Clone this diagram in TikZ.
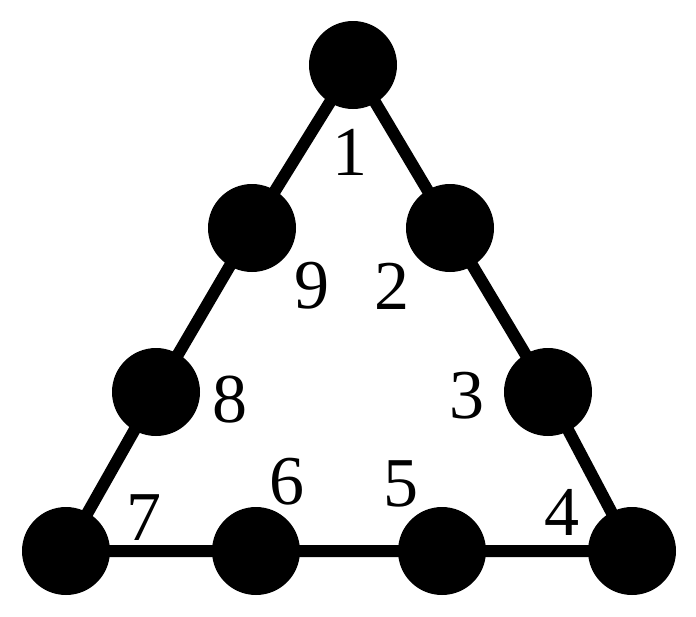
\documentclass[tikz,border=0pt]{standalone}
\usepackage{fontspec}
\setmainfont{Liberation Serif}
\begin{document}
\begin{tikzpicture}[x=1pt,y=-1pt,
  dot/.style={circle,fill=black,minimum size=88pt,inner sep=0pt},
  lab/.style={font=\fontsize{70}{70}\selectfont,inner sep=0pt}]
\useasboundingbox (0,0) rectangle (696,616);
\coordinate (t) at (353,65);
\coordinate (l1) at (252,228);
\coordinate (l2) at (156,392);
\coordinate (bl) at (66,551);
\coordinate (b1) at (256,551);
\coordinate (b2) at (442,551);
\coordinate (br) at (632,551);
\coordinate (r2) at (548,392);
\coordinate (r1) at (450,228);
\draw[line width=12pt,line join=miter] (t) -- (l1) -- (l2) -- (bl) -- (b1) -- (b2) -- (br) -- (r2) -- (r1) -- cycle;
\foreach \p in {t,l1,l2,bl,b1,b2,br,r2,r1} \node[dot] (n\p) at (\p) {};
\node[lab] (a1) at (350,152) {1};
\node[lab] (a2) at (392,286) {2};
\node[lab] (a3) at (467,396) {3};
\node[lab] (a4) at (562,512) {4};
\node[lab] (a5) at (401,484) {5};
\node[lab] (a6) at (287,482) {6};
\node[lab] (a7) at (144,518) {7};
\node[lab] (a8) at (230,400) {8};
\node[lab] (a9) at (312,286) {9};
\end{tikzpicture}
\end{document}
